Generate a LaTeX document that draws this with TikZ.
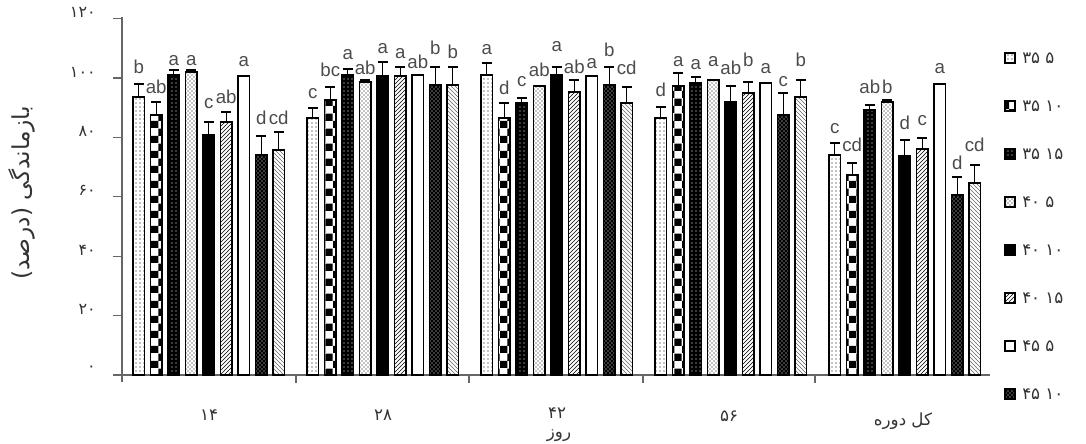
\documentclass[tikz,border=0pt]{standalone}
\usepackage{fontspec}
\setmainfont{Liberation Sans}
\newfontfamily\fa[Script=Arabic]{DejaVu Sans}
\TeXXeTstate=1
\usetikzlibrary{patterns}
\tikzset{
  ax/.style={draw=black!60, line width=0.8pt},
  errbar/.style={draw=black, line width=0.9pt},
  lab/.style={font=\fontsize{14}{14}\selectfont, text=black!70, anchor=base, inner sep=0pt},
  tickl/.style={font=\fa\fontsize{12}{12}\selectfont, text=black!80, inner sep=0pt},
  grpl/.style={font=\fa\fontsize{12.5}{12.5}\selectfont, text=black!80, inner sep=0pt},
  legt/.style={font=\fa\fontsize{12.5}{12.5}\selectfont, text=black!80, inner sep=0pt, anchor=west},
  barbase/.style={draw=black, line width=1.1pt},
  bs1/.style={barbase, preaction={fill=white}, pattern=dots},
  bs2/.style={barbase, preaction={fill=white}, pattern=checkerboard},
  bs3/.style={barbase, preaction={fill=black}, pattern=dots, pattern color=white},
  bs4/.style={barbase, preaction={fill=white}, pattern=crosshatch dots},
  bs5/.style={barbase, fill=black},
  bs6/.style={barbase, preaction={fill=white}, pattern=north east lines},
  bs7/.style={barbase, fill=white},
  bs8/.style={barbase, preaction={fill=black}, pattern=crosshatch dots, pattern color=white},
  bs9/.style={barbase, preaction={fill=white}, pattern=north west lines, pattern color=black!60},
}
\expandafter\def\csname mydat0\endcsname{97/84/b/67,115/102/ab/87,75/70/a/59,72/70/a/59,135/122/c/102,122/112/ab/97,76/76/a/60,155/136/d/118,150/132/cd/118}
\expandafter\def\csname mydat1\endcsname{118/108/c/92,100/87/bc/70,75/69/a/53,82/80/ab/68,76/62/a/47,76/67/a/52,75/75/ab/62,85/67/b/48,85/67/b/52}
\expandafter\def\csname mydat2\endcsname{75/63/a/48,118/103/d/88,103/98/c/80,86/86/ab/70,75/67/a/45,92/80/ab/67,76/76/a/62,85/67/b/50,103/87/cd/68}
\expandafter\def\csname mydat3\endcsname{118/107/d/90,86/73/a/60,83/77/a/63,80/80/a/60,102/86/ab/68,93/82/b/60,83/83/a/67,115/93/c/80,97/80/b/60}
\expandafter\def\csname mydat4\endcsname{155/143/c/127,175/163/cd/145,110/105/ab/87,102/100/b/87,156/140/d/123,149/138/c/119,84/84/a/67,195/177/d/163,183/165/cd/145}
\begin{document}
\begin{tikzpicture}[x=0.75pt,y=-0.75pt]
\useasboundingbox (0,0) rectangle (1086,443);
% axes
\coordinate (o) at (122,375);
\coordinate (ytop) at (122,17);
\coordinate (ybot) at (122,382);
\coordinate (xl) at (113,375);
\coordinate (xr) at (990,375);
\draw[ax] (ybot) -- (ytop);
\draw[ax] (xl) -- (xr);
% y ticks and labels
\foreach \v/\lab in {0/۰,20/۲۰,40/۴۰,60/۶۰,80/۸۰,100/۱۰۰,120/۱۲۰}{
  \pgfmathsetmacro\yy{375-2.97*\v}
  \coordinate (yt\v) at (113,\yy);
  \coordinate (ya\v) at (122,\yy);
  \draw[ax] (yt\v) -- (ya\v);
  \node[tickl, anchor=east] (ylab\v) at (96,\yy-6) {\lab};
}
% x ticks
\foreach \xx [count=\k] in {296,469,643,815}{
  \coordinate (xt\k) at (\xx,375);
  \coordinate (xb\k) at (\xx,383);
  \draw[ax] (xt\k) -- (xb\k);
}
% bars
\foreach \g in {0,1,2,3,4}{
  \expandafter\let\expandafter\dat\csname mydat\g\endcsname
  \foreach \t/\e/\l/\ly [count=\i] in \dat {
    \pgfmathsetmacro\xl{133+174*\g+17.5*(\i-1)}
    \pgfmathsetmacro\xc{\xl+5.75}
    \coordinate (bb\g\i) at (\xl,375);
    \coordinate (bt\g\i) at (\xl+11.5,\t);
    \draw[bs\i] (bb\g\i) rectangle (bt\g\i);
    \pgfmathtruncatemacro\hasErr{(\t-\e)>1.5 ? 1 : 0}
    \ifnum\hasErr=1
      \coordinate (et\g\i) at (\xc,\t);
      \coordinate (ee\g\i) at (\xc,\e);
      \coordinate (cl\g\i) at (\xc-5,\e);
      \coordinate (cr\g\i) at (\xc+5,\e);
      \draw[errbar] (et\g\i) -- (ee\g\i);
      \draw[errbar] (cl\g\i) -- (cr\g\i);
    \fi
    \node[lab] (lb\g\i) at (\xc,\ly+6) {\l};
  }
}
% group labels
\node[grpl] (g1) at (209,415) {۱۴};
\node[grpl] (g2) at (383,415) {۲۸};
\node[grpl] (g3) at (557,413) {۴۲};
\node[grpl] (g4) at (729,416) {۵۶};
\node[grpl] (g5) at (903,421) {\beginR کل دوره\endR};
\node[grpl] (xlab) at (559,436) {\beginR روز\endR};
% y label
\node[rotate=90, font=\fa\fontsize{17.5}{17.5}\selectfont, text=black!80, inner sep=0pt] (ylab) at (22,193) {\beginR بازماندگی (درصد)\endR};
% legend
\foreach \s/\txt [count=\k] in {1/{۳۵ ۵},2/{۳۵ ۱۰},3/{۳۵ ۱۵},4/{۴۰ ۵},5/{۴۰ ۱۰},6/{۴۰ ۱۵},7/{۴۵ ۵},8/{۴۵ ۱۰}}{
  \pgfmathsetmacro\ly{58+48*(\k-1)}
  \coordinate (lsa\k) at (1005,\ly-5);
  \coordinate (lsb\k) at (1015,\ly+5);
  \draw[bs\s] (lsa\k) rectangle (lsb\k);
  \node[legt] (lt\k) at (1022,\ly) {\txt};
}
\end{tikzpicture}
\end{document}
